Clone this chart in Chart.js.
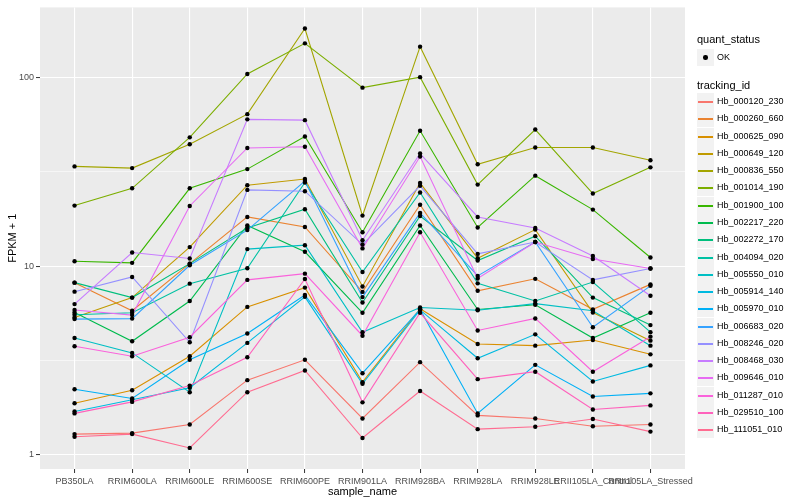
<!DOCTYPE html>
<html lang="en">
<head>
  <meta charset="UTF-8" />
  <title>FPKM + 1 by sample_name</title>
  <script src="https://cdn.jsdelivr.net/npm/chart.js"></script>
  <style>
    body { margin: 0; background: #fff; font-family: "Liberation Sans", Arial, sans-serif; }
    #wrap { position: relative; width: 800px; height: 500px; }
    .ttl { position: absolute; font-size: 11px; line-height: 13px; white-space: nowrap; color: #000; }
    .key { position: absolute; width: 17px; height: 17px; background: #F2F2F2; }
    .lab { position: absolute; font-size: 9px; line-height: 11px; white-space: nowrap; color: #000; }
  </style>
</head>
<body>
<div id="wrap">
  <canvas id="chart" width="800" height="500"></canvas>
  <div id="legend"></div>
</div>
<script>
const categories = ["PB350LA", "RRIM600LA", "RRIM600LE", "RRIM600SE", "RRIM600PE", "RRIM901LA",
  "RRIM928BA", "RRIM928LA", "RRIM928LE", "RRII105LA_Control", "RRII105LA_Stressed"];

const trackingIds = ["Hb_000120_230", "Hb_000260_660", "Hb_000625_090", "Hb_000649_120", "Hb_000836_550",
  "Hb_001014_190", "Hb_001900_100", "Hb_002217_220", "Hb_002272_170", "Hb_004094_020",
  "Hb_005550_010", "Hb_005914_140", "Hb_005970_010", "Hb_006683_020", "Hb_008246_020",
  "Hb_008468_030", "Hb_009646_010", "Hb_011287_010", "Hb_029510_100", "Hb_111051_010"];

const seriesColors = ["#F8766D", "#EA8331", "#D89000", "#C09B00", "#A3A500", "#7CAE00", "#39B600",
  "#00BB4E", "#00BF7D", "#00C1A3", "#00BFC4", "#00BAE0", "#00B0F6", "#35A2FF", "#9590FF",
  "#C77CFF", "#E76BF3", "#FA62DB", "#FF62BC", "#FF6C91"];

// FPKM + 1, one array per tracking_id, in sample order
const hb000120_230 = [1.29, 1.305, 1.45, 2.49, 3.19, 1.56, 3.10, 1.62, 1.56, 1.42, 1.45];
const hb000260_660 = [8.17, 5.80, 10.3, 18.2, 16.1, 7.3, 21.1, 7.4, 8.56, 5.9, 8.0];
const hb000625_090 = [1.88, 2.20, 3.33, 6.08, 7.69, 2.43, 5.95, 3.87, 3.79, 4.06, 3.41];
const hb000649_120 = [5.34, 6.81, 12.6, 26.8, 28.9, 7.8, 27.5, 11.0, 15.6, 5.68, 4.03];
const hb000836_550 = [33.7, 33.0, 44.1, 63.7, 181, 18.5, 145, 34.6, 42.4, 42.4, 36.3];
const hb001014_190 = [20.9, 25.8, 48, 104, 151, 88, 100, 27.0, 52.8, 24.2, 33.3];
const hb001900_100 = [10.6, 10.4, 25.8, 32.6, 48.5, 15.1, 52, 16.0, 30.1, 19.9, 11.1];
const hb002217_220 = [5.68, 4.0, 6.53, 16.4, 11.9, 5.66, 16.4, 5.89, 6.24, 4.16, 5.66];
const hb002272_170 = [8.17, 6.81, 10.3, 15.9, 20.0, 6.41, 18.4, 10.7, 14.4, 6.81, 4.87];
const hb004094_020 = [5.52, 5.66, 8.07, 9.73, 27.7, 9.3, 24.5, 8.1, 6.53, 8.23, 4.47];
const hb005550_010 = [4.16, 3.47, 2.15, 12.3, 12.9, 4.46, 6.04, 5.84, 6.33, 5.8, 3.79];
const hb005914_140 = [1.70, 1.96, 2.27, 3.92, 6.87, 2.38, 5.86, 3.25, 4.35, 2.45, 2.98];
const hb005970_010 = [2.23, 1.99, 3.19, 4.40, 7.03, 2.71, 5.9, 1.66, 3.0, 2.04, 2.12];
const hb006683_020 = [5.24, 5.27, 10.1, 15.5, 28.2, 6.85, 19.1, 8.87, 13.4, 4.74, 7.86];
const hb008246_020 = [7.32, 8.76, 3.95, 25.3, 24.9, 13.0, 26.6, 11.6, 13.4, 8.45, 9.7];
const hb008468_030 = [6.29, 11.8, 10.97, 59.8, 59.2, 13.7, 39.4, 18.2, 15.9, 11.3, 6.97];
const hb009646_010 = [5.85, 5.5, 20.8, 42.2, 42.8, 12.4, 38.0, 8.60, 13.4, 10.9, 9.7];
const hb011287_010 = [3.76, 3.33, 4.20, 8.45, 9.12, 4.28, 15.1, 4.56, 5.28, 2.76, 4.23];
const hb029510_100 = [1.66, 1.91, 2.33, 3.29, 8.54, 1.90, 5.66, 2.52, 2.76, 1.74, 1.83];
const hb111051_010 = [1.25, 1.29, 1.09, 2.15, 2.80, 1.23, 2.18, 1.37, 1.41, 1.55, 1.33];

const seriesValues = [hb000120_230, hb000260_660, hb000625_090, hb000649_120, hb000836_550,
  hb001014_190, hb001900_100, hb002217_220, hb002272_170, hb004094_020,
  hb005550_010, hb005914_140, hb005970_010, hb006683_020, hb008246_020,
  hb008468_030, hb009646_010, hb011287_010, hb029510_100, hb111051_010];

const yTicks = [1, 10, 100];
const yGrid = [1, Math.sqrt(10), 10, Math.sqrt(1000), 100];
const FONT = "'Liberation Sans', Arial, sans-serif";

// grey panel behind the plot, like ggplot
const panelBg = {
  id: "panelBg",
  beforeDraw(chart) {
    const { ctx, chartArea: a } = chart;
    ctx.save();
    ctx.fillStyle = "#fff";
    ctx.fillRect(0, 0, chart.width, chart.height);
    ctx.fillStyle = "#EBEBEB";
    ctx.fillRect(a.left, a.top, a.right - a.left, a.bottom - a.top);
    ctx.restore();
  }
};

const lineSets = seriesValues.map((vals, i) => ({
  label: trackingIds[i],
  data: vals.map((v, j) => ({ x: j + 1, y: v })),
  borderColor: seriesColors[i],
  borderWidth: 1.1,
  pointRadius: 0,
  fill: false,
  tension: 0,
  order: seriesValues.length - i
}));

const pointSet = {
  label: "OK",
  data: seriesValues.flatMap(vals => vals.map((v, j) => ({ x: j + 1, y: v }))),
  showLine: false,
  pointRadius: 2.2,
  pointBackgroundColor: "#000",
  pointBorderColor: "#000",
  pointBorderWidth: 0,
  order: 0
};

const isMajor = v => yTicks.some(t => Math.abs(t - v) < 1e-6);

new Chart(document.getElementById("chart"), {
  type: "line",
  data: { datasets: [...lineSets, pointSet] },
  options: {
    responsive: false,
    animation: false,
    layout: { padding: { left: 0, right: 115, top: 5, bottom: 0 } },
    plugins: { legend: { display: false }, tooltip: { enabled: false } },
    scales: {
      x: {
        type: "linear",
        min: 0.4,
        max: categories.length + 0.6,
        afterBuildTicks: s => { s.ticks = categories.map((c, i) => ({ value: i + 1 })); },
        afterFit: s => { s.height = 31; },
        border: { display: false },
        grid: { color: "#fff", lineWidth: 1.1, drawTicks: true, tickLength: 4, tickColor: "#333", tickWidth: 1 },
        ticks: {
          autoSkip: false, maxRotation: 0, minRotation: 0, padding: 3,
          color: "#4D4D4D", font: { size: 9, family: FONT },
          callback: v => categories[Math.round(v) - 1]
        },
        title: { display: true, text: "sample_name", color: "#000", font: { size: 11, family: FONT }, padding: { top: 0, bottom: 1 } }
      },
      y: {
        type: "logarithmic",
        min: 0.843,
        max: 234,
        afterBuildTicks: s => { s.ticks = yGrid.map(v => ({ value: v })); },
        afterFit: s => { s.width = 40; },
        border: { display: false },
        grid: {
          color: "#fff",
          lineWidth: c => (c.tick && isMajor(c.tick.value) ? 1.1 : 0.55),
          drawTicks: true, tickLength: 4,
          tickColor: c => (c.tick && isMajor(c.tick.value) ? "#333" : "rgba(0,0,0,0)"),
          tickWidth: 1
        },
        ticks: {
          padding: 2, color: "#4D4D4D", font: { size: 9, family: FONT },
          callback: v => (isMajor(v) ? String(Math.round(v)) : "")
        },
        title: { display: true, text: "FPKM + 1", color: "#000", font: { size: 11, family: FONT }, padding: { top: 6, bottom: 0 } }
      }
    }
  },
  plugins: [panelBg]
});

// legend on the right, as ggplot draws it
const legend = document.getElementById("legend");
function addEl(cls, left, top, html) {
  const d = document.createElement("div");
  d.className = cls;
  d.style.left = left + "px";
  d.style.top = top + "px";
  if (html !== undefined) d.innerHTML = html;
  legend.appendChild(d);
  return d;
}
addEl("ttl", 697, 33, "quant_status");
const okKey = addEl("key", 697, 49);
okKey.innerHTML = '<div style="position:absolute;left:6px;top:6px;width:4.5px;height:4.5px;border-radius:50%;background:#000"></div>';
addEl("lab", 717, 52, "OK");
addEl("ttl", 697, 79, "tracking_id");
trackingIds.forEach((id, i) => {
  const cy = 101.5 + i * 17.28;
  const k = addEl("key", 697, Math.round(cy - 8.5));
  k.innerHTML = '<div style="position:absolute;left:1px;right:1px;top:8px;height:1.5px;background:' + seriesColors[i] + '"></div>';
  addEl("lab", 717, Math.round(cy - 5.5), id);
});
</script>
</body>
</html>
